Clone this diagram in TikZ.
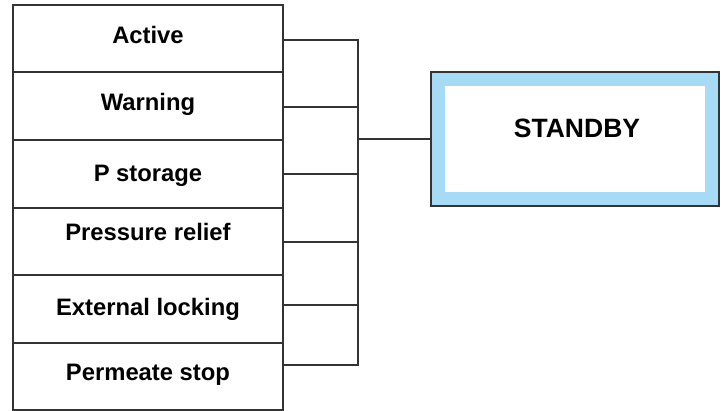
\documentclass[tikz,border=0pt]{standalone}
\usepackage{fontspec}
\setmainfont{Liberation Sans}
\definecolor{edge}{HTML}{333333}
\definecolor{sky}{HTML}{A6DAF5}
\begin{document}
\begin{tikzpicture}[x=1pt,y=1pt,
  lbox/.style={draw=edge,line width=2pt,fill=white,minimum width=270pt,minimum height=67.6pt,inner sep=0pt,text depth=8pt,font=\fontsize{23.8}{27}\selectfont\bfseries},
  wire/.style={draw=edge,line width=2pt}]
\useasboundingbox (0,0) rectangle (725,-410);
\node[lbox] (a) at (148,-38.5) {Active};
\node[lbox] (b) at (148,-106.1) {Warning};
\node[lbox,text depth=0pt] (c) at (148,-173.7) {P storage};
\node[lbox,text depth=18pt] (d) at (148,-241.3) {Pressure relief};
\node[lbox,text depth=5pt] (e) at (148,-308.9) {External locking};
\node[lbox] (f) at (148,-376.5) {Permeate stop};
\node[draw=edge,line width=2pt,fill=sky,minimum width=288pt,minimum height=134pt,inner sep=0pt] (s) at (575,-139) {};
\node[fill=white,minimum width=260pt,minimum height=106pt,inner sep=0pt] (si) at (s.center) {};
\node[font=\fontsize{26.5}{30}\selectfont\bfseries,inner sep=0pt] (st) at (577,-128) {STANDBY};
\coordinate (bus) at (358,0);
\coordinate (pa) at ([yshift=-1.5pt]a.east);
\coordinate (pb) at ([yshift=-1pt]b.east);
\coordinate (pc) at (c.east);
\coordinate (pd) at ([yshift=-1pt]d.east);
\coordinate (pe) at ([yshift=4pt]e.east);
\coordinate (pf) at ([yshift=11.5pt]f.east);
\foreach \p in {pa,pb,pc,pd,pe,pf} \draw[wire] (\p) -- (\p -| bus);
\draw[wire,line cap=rect] (pa -| bus) -- (pf -| bus);
\draw[wire] (s.west -| bus) -- (s.west);
\end{tikzpicture}
\end{document}
